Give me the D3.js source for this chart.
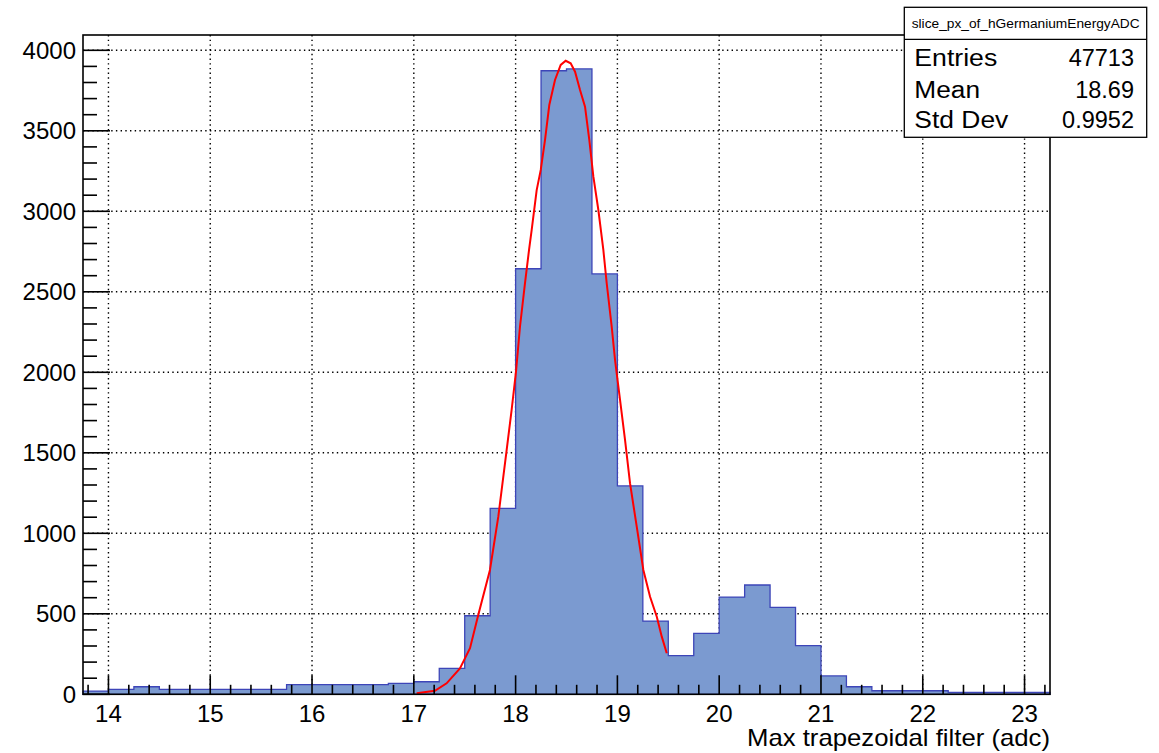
<!DOCTYPE html>
<html>
<head>
<meta charset="utf-8">
<script src="https://cdn.jsdelivr.net/npm/d3@7/dist/d3.min.js"></script>
<style>
  html, body { margin: 0; padding: 0; background: #ffffff; }
  svg { display: block; font-family: "Liberation Sans", Arial, Helvetica, sans-serif; }
</style>
</head>
<body>
<svg id="chart" width="1159" height="753"></svg>
<script>
// Histogram: bin lower edges (width 0.25 adc) and bin contents
const binWidth = 0.25;
const binEdges = [13.75, 14.0, 14.25, 14.5, 14.75, 15.0, 15.25, 15.5, 15.75, 16.0,
                  16.25, 16.5, 16.75, 17.0, 17.25, 17.5, 17.75, 18.0, 18.25, 18.5,
                  18.75, 19.0, 19.25, 19.5, 19.75, 20.0, 20.25, 20.5, 20.75, 21.0,
                  21.25, 21.5, 21.75, 22.0, 22.25, 22.5, 22.75, 23.0];
const binCounts = [20, 31, 47, 31, 31, 31, 31, 31, 60, 60,
                   60, 60, 68, 78, 161, 488, 1155, 2643, 3873, 3884,
                   2611, 1294, 455, 240, 379, 604, 679, 540, 302, 114,
                   47, 22, 22, 22, 12, 12, 12, 12];

// Gaussian fit curve, sampled points
const fitX = [17.028, 17.207, 17.322, 17.453, 17.552, 17.633, 17.748, 17.830, 17.912, 17.961,
              18.004, 18.043, 18.092, 18.132, 18.158, 18.207, 18.247, 18.289, 18.331, 18.387,
              18.443, 18.492, 18.541, 18.584, 18.633, 18.682, 18.724, 18.764, 18.813, 18.862,
              18.895, 18.944, 18.977, 19.026, 19.075, 19.124, 19.190, 19.255, 19.321, 19.387,
              19.436, 19.485];
const fitY = [6, 22, 68, 161, 286, 493, 772, 1103, 1517, 1766,
              2004, 2283, 2553, 2760, 2884, 3132, 3257, 3443, 3660, 3816,
              3909, 3935, 3919, 3867, 3753, 3650, 3443, 3215, 3008, 2760,
              2553, 2283, 2076, 1828, 1580, 1311, 1041, 772, 606, 482,
              358, 255];

// Axis ticks
const xMajorTicks = [14, 15, 16, 17, 18, 19, 20, 21, 22, 23];
const xMinorTicks = d3.range(69, 117).map(i => i / 5).filter(v => !xMajorTicks.includes(v));
const yMajorTicks = [0, 500, 1000, 1500, 2000, 2500, 3000, 3500, 4000];
const yMinorTicks = d3.range(0, 41).map(i => i * 100).filter(v => v % 500 !== 0);

// Stats box
const statsTitle = "slice_px_of_hGermaniumEnergyADC";
const statsLabels = ["Entries", "Mean", "Std Dev"];
const statsValues = ["47713", "18.69", "0.9952"];
const xTitle = "Max trapezoidal filter (adc)";

const frame = { left: 83, right: 1050, top: 35, bottom: 694.3 };
const svg = d3.select("#chart");

const x = d3.scaleLinear().domain([13.75, 23.25]).range([frame.left, frame.right]);
const y = d3.scaleLinear().domain([0, 4095]).range([frame.bottom, frame.top]);

// Grid (dotted), beneath the histogram
const grid = svg.append("g").attr("stroke", "#000").attr("stroke-width", 1.4)
  .attr("stroke-dasharray", "1.4,3.3");
grid.selectAll("line.gx").data(xMajorTicks).join("line")
  .attr("x1", d => x(d)).attr("x2", d => x(d))
  .attr("y1", frame.top).attr("y2", frame.bottom);
grid.selectAll("line.gy").data(yMajorTicks.filter(d => d > 0)).join("line")
  .attr("x1", frame.left).attr("x2", frame.right)
  .attr("y1", d => y(d)).attr("y2", d => y(d));

// Histogram as a filled step outline
const bins = binEdges.map((e, i) => ({ x0: e, x1: e + binWidth, v: binCounts[i] }));
let pts = [[x(bins[0].x0), y(0)]];
bins.forEach(b => { pts.push([x(b.x0), y(b.v)]); pts.push([x(b.x1), y(b.v)]); });
pts.push([x(bins[bins.length - 1].x1), y(0)]);
svg.append("path")
  .attr("d", d3.line()(pts) + "Z")
  .attr("fill", "#7b9ad0")
  .attr("stroke", "#3d45b8")
  .attr("stroke-width", 1.3)
  .attr("stroke-linejoin", "miter");

// Fit curve
svg.append("path")
  .datum(fitX.map((v, i) => [v, fitY[i]]))
  .attr("d", d3.line().x(d => x(d[0])).y(d => y(d[1])))
  .attr("fill", "none")
  .attr("stroke", "#ff0000")
  .attr("stroke-width", 2);

// Frame
svg.append("rect")
  .attr("x", frame.left).attr("y", frame.top)
  .attr("width", frame.right - frame.left).attr("height", frame.bottom - frame.top)
  .attr("fill", "none").attr("stroke", "#000").attr("stroke-width", 1.6);

// Ticks (pointing inward) and labels
const axes = svg.append("g").attr("stroke", "#000").attr("stroke-width", 1.6);
axes.selectAll("line.xM").data(xMajorTicks).join("line")
  .attr("x1", d => x(d)).attr("x2", d => x(d))
  .attr("y1", frame.bottom).attr("y2", frame.bottom - 19);
axes.selectAll("line.xm").data(xMinorTicks).join("line")
  .attr("x1", d => x(d)).attr("x2", d => x(d))
  .attr("y1", frame.bottom).attr("y2", frame.bottom - 9.5);
axes.selectAll("line.yM").data(yMajorTicks).join("line")
  .attr("x1", frame.left).attr("x2", frame.left + 27)
  .attr("y1", d => y(d)).attr("y2", d => y(d));
axes.selectAll("line.ym").data(yMinorTicks).join("line")
  .attr("x1", frame.left).attr("x2", frame.left + 14)
  .attr("y1", d => y(d)).attr("y2", d => y(d));

svg.append("g").selectAll("text").data(xMajorTicks).join("text")
  .attr("x", d => x(d)).attr("y", 721.5)
  .attr("text-anchor", "middle").attr("font-size", 24).attr("fill", "#000")
  .text(d => d);

svg.append("g").selectAll("text").data(yMajorTicks).join("text")
  .attr("x", 76).attr("y", d => y(d) + 8.4)
  .attr("text-anchor", "end").attr("font-size", 24).attr("fill", "#000")
  .text(d => d);

svg.append("text")
  .attr("x", 747).attr("y", 746)
  .attr("font-size", 24).attr("fill", "#000")
  .attr("textLength", 303).attr("lengthAdjust", "spacingAndGlyphs")
  .text(xTitle);

// Stats box
const sb = { x: 904.3, y: 7.3, w: 242.4, h: 130, titleH: 32 };
const stats = svg.append("g");
stats.append("rect")
  .attr("x", sb.x).attr("y", sb.y).attr("width", sb.w).attr("height", sb.h)
  .attr("fill", "#fff").attr("stroke", "#000").attr("stroke-width", 1.3);
stats.append("line")
  .attr("x1", sb.x).attr("x2", sb.x + sb.w)
  .attr("y1", sb.y + sb.titleH).attr("y2", sb.y + sb.titleH)
  .attr("stroke", "#000").attr("stroke-width", 1.3);
stats.append("text")
  .attr("x", 911.7).attr("y", 28)
  .attr("font-size", 12.5).attr("fill", "#000")
  .attr("textLength", 228).attr("lengthAdjust", "spacingAndGlyphs")
  .text(statsTitle);
const rowY = [65.7, 98.3, 128.3];
const labelW = [83, 65.7, 94];
stats.selectAll("text.l").data(statsLabels).join("text")
  .attr("x", 914.3).attr("y", (d, i) => rowY[i])
  .attr("font-size", 23).attr("fill", "#000")
  .attr("textLength", (d, i) => labelW[i]).attr("lengthAdjust", "spacingAndGlyphs")
  .text(d => d);
stats.selectAll("text.v").data(statsValues).join("text")
  .attr("x", 1134).attr("y", (d, i) => rowY[i])
  .attr("text-anchor", "end")
  .attr("font-size", 23.5).attr("fill", "#000")
  .text(d => d);
</script>
</body>
</html>
